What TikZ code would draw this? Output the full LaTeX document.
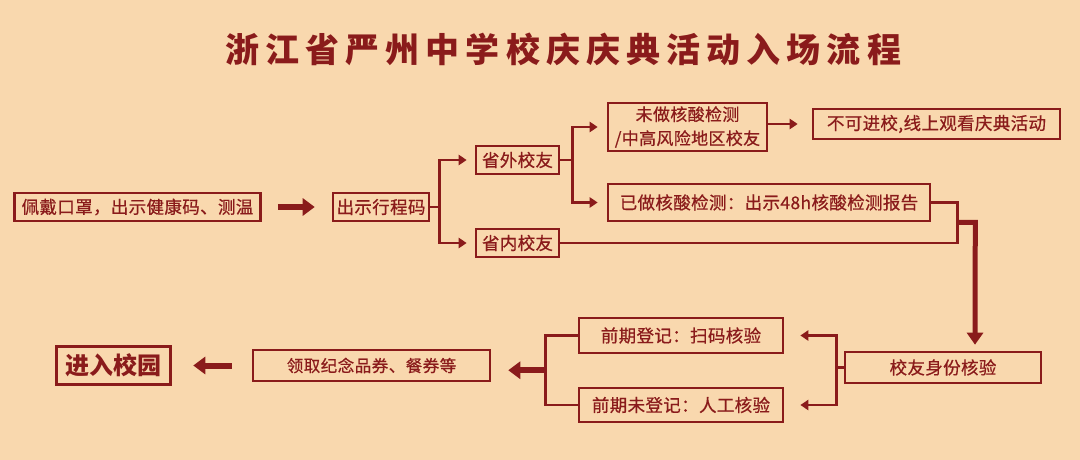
\documentclass[tikz,border=0pt]{standalone}
\usepackage{fontspec}
\setmainfont{Noto Sans CJK SC}
\usetikzlibrary{arrows.meta,calc}
\definecolor{bgc}{RGB}{249,216,174}
\definecolor{dred}{RGB}{138,27,27}
\begin{document}
\begin{tikzpicture}[x=1pt,y=-1pt,
  box/.style={draw=dred, line width=2.6pt, text=dred, inner sep=0pt,
    font=\fontsize{17.5pt}{25pt}\selectfont\addfontfeatures{FakeBold=0.6,LetterSpace=2}, align=center},
  conn/.style={draw=dred, line width=2.6pt},
  arr/.style={conn, -{Triangle[length=8pt,width=10pt]}},
  bigarr/.style={draw=dred, line width=6pt, -{Triangle[length=12pt,width=17pt]}}]
\fill[bgc] (0,0) rectangle (1080,460);
\useasboundingbox (0,0) rectangle (1080,460);

% title
\node[anchor=west, text=dred, inner sep=0pt,
  font=\fontsize{34pt}{40pt}\selectfont\bfseries\addfontfeatures{LetterSpace=18}] (T) at (225,49) {浙江省严州中学校庆庆典活动入场流程};

% boxes
\node[box, minimum width=246pt, minimum height=28pt] (A) at (137.5,207) {佩戴口罩，出示健康码、测温};
\node[box, minimum width=96pt, minimum height=28pt] (B) at (381,207) {出示行程码};
\node[box, minimum width=83pt, minimum height=28pt] (C) at (517.5,160) {省外校友};
\node[box, minimum width=83pt, minimum height=28pt] (D) at (517.5,243) {省内校友};
\node[box, minimum width=159pt, minimum height=48pt, font=\fontsize{17pt}{24pt}\selectfont\addfontfeatures{FakeBold=0.6,LetterSpace=2}] (E) at (687.5,127) {未做核酸检测\\/中高风险地区校友};
\node[box, minimum width=247pt, minimum height=30pt] (G) at (936.5,124) {不可进校,线上观看庆典活动};
\node[box, minimum width=322pt, minimum height=37pt, font=\fontsize{17.5pt}{24pt}\selectfont\addfontfeatures{FakeBold=0.6,LetterSpace=2}] (F) at (769,202.5) {已做核酸检测：出示48h核酸检测报告};
\node[box, minimum width=196pt, minimum height=31pt] (H) at (943,367.5) {校友身份核验};
\node[box, minimum width=204pt, minimum height=35pt] (I) at (681,335.5) {前期登记：扫码核验};
\node[box, minimum width=204pt, minimum height=34pt] (J) at (681,405) {前期未登记：人工核验};
\node[box, minimum width=237pt, minimum height=31pt, font=\fontsize{16.5pt}{24pt}\selectfont\addfontfeatures{FakeBold=0.6,LetterSpace=3}] (K) at (371.5,365.5) {领取纪念品券、餐券等};
\node[box, line width=3.5pt, minimum width=114pt, minimum height=38pt, font=\fontsize{24pt}{30pt}\selectfont\bfseries] (L) at (113.5,365.5) {进入校园};

% A -> B
\draw[bigarr] ([xshift=16pt]A.east) -- ([xshift=-17pt]B.west);

% B branch
\coordinate (b1) at ([xshift=9pt]B.east);
\draw[conn] (B.east) -- (b1);
\draw[arr] (b1) |- ([xshift=-8pt]C.west);
\draw[arr] (b1) |- ([xshift=-8pt]D.west);

% C branch
\coordinate (c1) at ([xshift=12pt]C.east);
\draw[conn] (C.east) -- (c1);
\draw[arr] (c1) |- ([xshift=-9pt]E.west);
\draw[arr] (c1) |- ([xshift=-9pt]F.west);

% E -> G
\draw[arr] (E.east |- G.west) -- ([xshift=-14pt]G.west);

% F and D merge
\coordinate (f1) at ([xshift=26pt]F.east);
\draw[conn] (D.east) -| (f1) -- (F.east);
\coordinate (t1) at (f1 |- F.south);
\coordinate (t2) at ([xshift=18pt]t1);
\draw[draw=dred, line width=5pt, -{Triangle[length=12pt,width=16pt]}]
  (t1) -- (t2) -- ([xshift=32pt,yshift=6pt]H.north);

% H branch
\coordinate (h1) at ([xshift=-7pt]H.west);
\draw[conn] (H.west) -- (h1);
\draw[arr] (h1) |- ([xshift=16pt]I.east);
\draw[arr] (h1) |- ([xshift=16pt]J.east);

% I/J merge -> K
\coordinate (i1) at ([xshift=-32pt]I.west);
\draw[conn] (I.west) -- (i1) |- (J.west);
\coordinate (im) at ($(i1)!0.5!(i1 |- J.west)$);
\draw[bigarr] (im) -- ([xshift=17pt]im -| K.east);

% K -> L
\draw[bigarr] ([xshift=-20pt]K.west) -- ([xshift=21pt]L.east);
\end{tikzpicture}
\end{document}
